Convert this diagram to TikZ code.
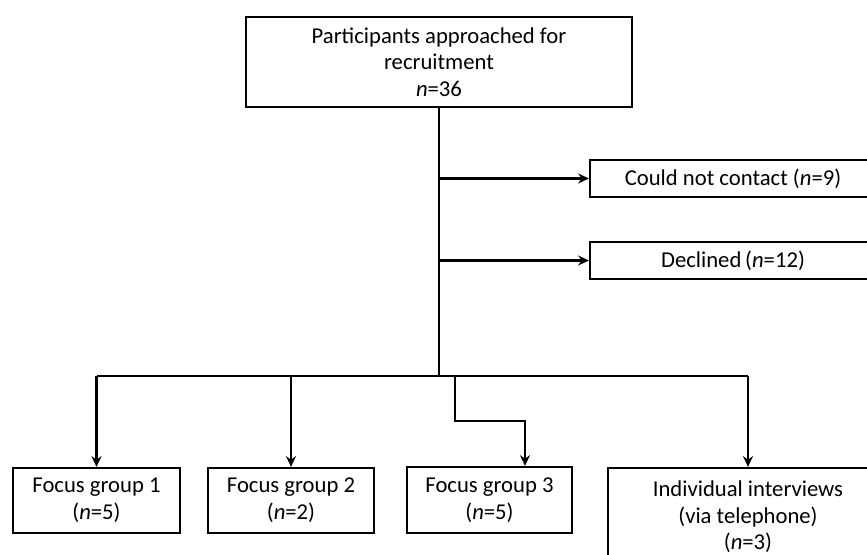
\documentclass[tikz,border=0pt]{standalone}
\usepackage{fontspec}
\setmainfont{Carlito}
\usetikzlibrary{arrows.meta}

\tikzset{
  box/.style={draw, line width=1.7pt, align=center, inner sep=0pt},
  wire/.style={line width=1.7pt},
  link/.style={line width=1.7pt, -{Stealth[length=8pt,width=7.5pt]}}
}

\begin{document}
\begin{tikzpicture}[x=0.75pt, y=-0.75pt, font=\fontsize{17}{20}\selectfont]
\useasboundingbox (0,0) rectangle (867,554);
\node[box, minimum width=289.5pt, minimum height=67.5pt] (top) at (439,62)
  {Participants approached for\\recruitment\\\textit{n}=36};
\node[box, minimum width=214.5pt, minimum height=27.75pt] (contact) at (733,178.5)
  {Could not contact (\textit{n}=9)};
\node[box, minimum width=214.5pt, minimum height=27.75pt] (declined) at (733,260.5)
  {Declined\,(\textit{n}=12)};
\node[box, minimum width=125.25pt, minimum height=48.75pt] (fg1) at (96.5,500.5)
  {Focus group 1\\(\textit{n}=5)};
\node[box, minimum width=124.5pt, minimum height=48.75pt] (fg2) at (291,500.5)
  {Focus group 2\\(\textit{n}=2)};
\node[box, minimum width=123.75pt, minimum height=49.5pt] (fg3) at (489.5,500)
  {Focus group 3\\(\textit{n}=5)};
\node[box, minimum width=210pt, minimum height=73.5pt] (indiv) at (748,517)
  {Individual interviews\\(via telephone)\\(\textit{n}=3)};

\coordinate (split) at (439,376);
\coordinate (bend) at (455,421);
\draw[wire] (top.south) -- (split);
\draw[wire] (fg1.north |- split) -- (indiv.north |- split);
\draw[link] (top.south |- contact.west) -- (contact.west);
\draw[link] (top.south |- declined.west) -- (declined.west);
\draw[link] (fg1.north |- split) -- (fg1.north);
\draw[link] (fg2.north |- split) -- (fg2.north);
\draw[link] (bend |- split) -- (bend) -| ([xshift=26.6pt]fg3.north);
\draw[link] (indiv.north |- split) -- (indiv.north);
\end{tikzpicture}
\end{document}
